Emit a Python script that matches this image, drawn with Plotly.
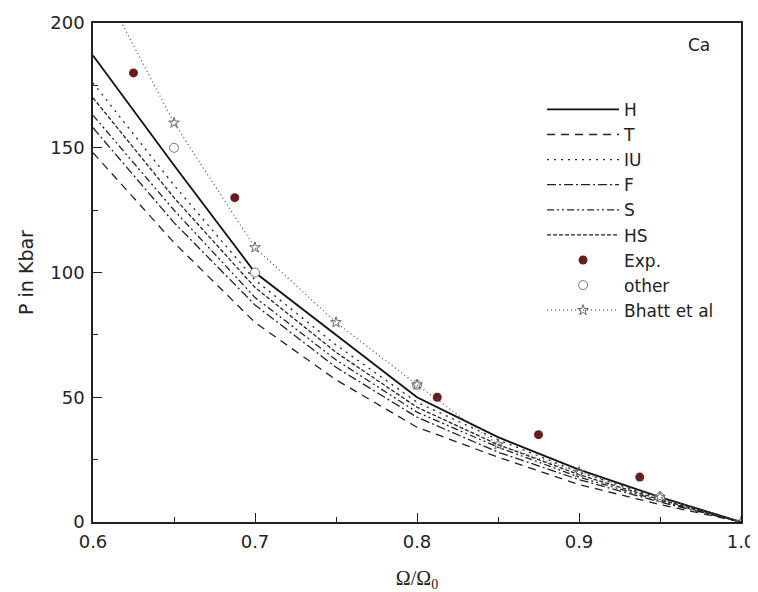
import plotly.graph_objects as go

x_grid = [0.6, 0.65, 0.7, 0.75, 0.8, 0.85, 0.9, 0.95, 1.0]
H = [187, 143, 100, 75, 50, 34, 21, 10, 0]
T = [148, 112, 80, 57, 38, 26, 15, 7, 0]
IU = [176, 135, 97, 71, 48, 33, 20, 9.5, 0]
F = [158, 120, 87, 62, 42, 28, 17, 8, 0]
S = [163, 125, 90, 65, 44, 30, 18, 8.5, 0]
HS = [170, 130, 94, 68, 46, 31, 19, 9, 0]

exp_x = [0.625, 0.6875, 0.8125, 0.875, 0.9375]
exp_y = [180, 130, 50, 35, 18]

other_x = [0.65, 0.7, 0.8, 0.95]
other_y = [150, 100, 55, 10]

bhatt_x = [0.6, 0.65, 0.7, 0.75, 0.8, 0.85, 0.9, 0.95, 1.0]
bhatt_y = [222, 160, 110, 80, 55, 31, 20, 10, 0]

FONT = "DejaVu Sans, Liberation Sans, Arial, sans-serif"
SERIF = "Liberation Serif, Times New Roman, serif"

fig = go.Figure()

def add_line(name, y, dash, width=1.3, color="#222"):
    fig.add_trace(go.Scatter(x=x_grid, y=y, mode="lines", name=name,
                             line=dict(color=color, width=width, dash=dash)))

add_line("H", H, "solid", 1.8, "#111")
add_line("T", T, "8px,6px")
add_line("IU", IU, "2px,5px")
add_line("F", F, "9px,3px,2px,3px")
add_line("S", S, "7px,3px,2px,3px,2px,3px")
add_line("HS", HS, "4px,2px")

fig.add_trace(go.Scatter(x=exp_x, y=exp_y, mode="markers", name="Exp.",
                         marker=dict(color="#6b1c1c", size=9)))
fig.add_trace(go.Scatter(x=other_x, y=other_y, mode="markers", name="other",
                         marker=dict(color="white", size=9, symbol="circle",
                                     line=dict(color="#777", width=1))))
fig.add_trace(go.Scatter(x=bhatt_x, y=bhatt_y, mode="lines+markers", name="Bhatt et al",
                         line=dict(color="#555", width=1.3, dash="1px,3px"),
                         marker=dict(symbol="star-open", size=8, color="#666",
                                     line=dict(width=1))))

fig.add_annotation(x=0.955, y=0.956, xref="paper", yref="paper", text="Ca",
                   showarrow=False, xanchor="right", yanchor="middle",
                   font=dict(size=17, color="#222", family=FONT))

fig.update_layout(
    width=750, height=584,
    margin=dict(l=85, r=17, t=15, b=70),
    paper_bgcolor="white", plot_bgcolor="white",
    font=dict(family=FONT, color="#222", size=18),
    legend=dict(x=0.693, y=0.862, xanchor="left", yanchor="top",
                bgcolor="rgba(0,0,0,0)", font=dict(size=17, family=FONT),
                itemwidth=72, tracegroupgap=0),
    showlegend=True,
)

fig.update_xaxes(range=[0.6, 1.0], dtick=0.1, tick0=0.6, tickformat=".1f",
                 automargin=False, ticklabelstandoff=3,
                 showgrid=False, zeroline=False, showline=True, linecolor="#222",
                 linewidth=1.5, mirror=True, ticks="inside", ticklen=9, tickwidth=1.2,
                 tickcolor="#222", tickfont=dict(size=18),
                 minor=dict(dtick=0.05, ticks="inside", ticklen=5, tickcolor="#222"),
                 title=dict(text="Ω/Ω<sub>0</sub>", font=dict(size=20, family=SERIF),
                            standoff=20))
fig.update_yaxes(range=[0, 200], dtick=50, showgrid=False, zeroline=False,
                 automargin=False, ticklabelstandoff=3,
                 showline=True, linecolor="#222", linewidth=1.5, mirror=True,
                 ticks="inside", ticklen=9, tickwidth=1.2, tickcolor="#222",
                 tickfont=dict(size=18),
                 minor=dict(dtick=25, ticks="inside", ticklen=5, tickcolor="#222"),
                 title=dict(text="P in Kbar", font=dict(size=19), standoff=12))

fig.write_html("out.html")
